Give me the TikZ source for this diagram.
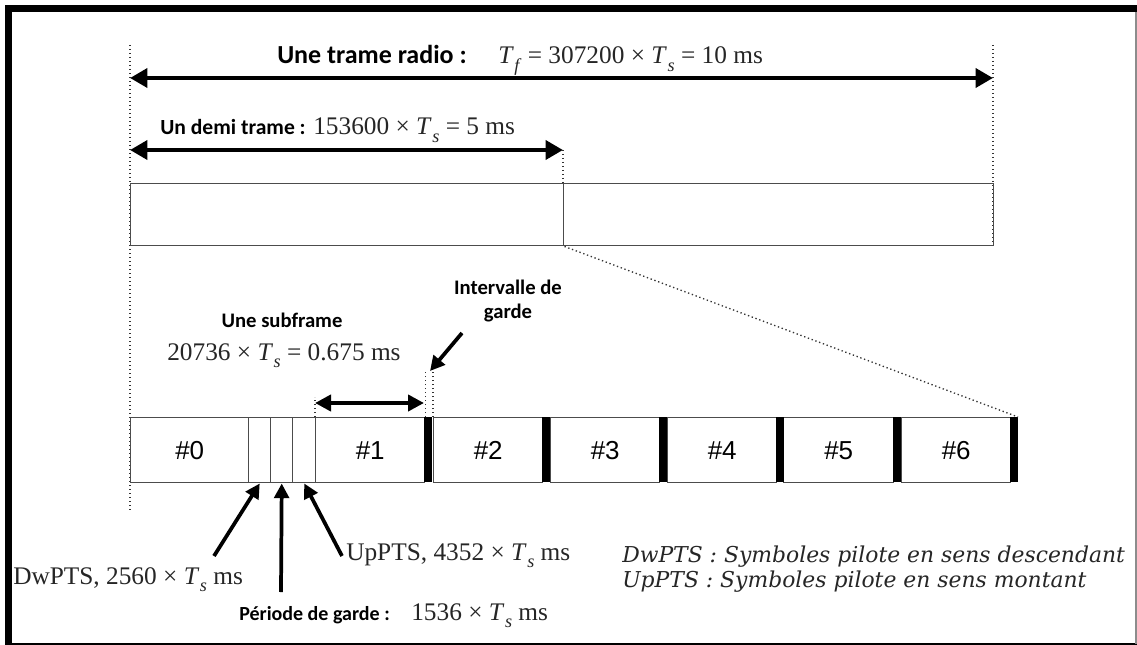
\documentclass[tikz,border=0pt]{standalone}
\usepackage{fontspec}
\setmainfont{Liberation Serif}
\newfontfamily\calibri{Carlito}
\newfontfamily\arialfont{Liberation Sans}
\newfontfamily\legendfont{DejaVu Serif}
\usetikzlibrary{arrows.meta}
\newcommand{\Tsub}[1]{\textit{T}\kern0.4pt\raisebox{-0.3em}{\scalebox{0.72}{\textit{#1}}}}
\tikzset{
  guide/.style={black!80, line width=1pt, dotted},
  longarrow/.style={line width=3.4pt, {Triangle[length=13pt,width=14pt]}-{Triangle[length=13pt,width=14pt]}},
  pointer/.style={line width=2.8pt, -{Triangle[length=11pt,width=11pt]}},
  box/.style={draw=black!70, line width=1.1pt, anchor=north west, inner sep=0pt},
  cell/.style={box, minimum height=48.75pt, font=\arialfont\fontsize{19.5pt}{19.5pt}\selectfont},
  boldtext/.style={font=\calibri\bfseries\fontsize{#1}{#1}\selectfont, inner sep=0pt, anchor=base west},
  boldtext/.default=15.5pt,
  serif/.style={font=\fontsize{19pt}{22pt}\selectfont, text=black!85, inner sep=0pt, anchor=base west},
  legend/.style={font=\legendfont\itshape\fontsize{16.4pt}{18pt}\selectfont, text=black!85, inner sep=0pt, anchor=base west},
}
\begin{document}
\begin{tikzpicture}[x=0.75pt, y=-0.75pt]
\useasboundingbox (0,0) rectangle (1137,645);
\fill (5,5) rectangle (1137,12);
\fill (5,5) rectangle (12,645);
\draw[line width=1.5pt] (5,644) -- (1137,644);
\draw[black!45, line width=0.8pt] (1136,12) -- (1136,644);

\path (130,78) coordinate (fl) (993,78) coordinate (fr)
      (130,150) coordinate (hl) (563,150) coordinate (hr);
\draw[guide] (130,45) -- (130,510);
\draw[guide] (993,45) -- (993,245);
\draw[guide] (hr) -- (563,183);
\draw[longarrow] (fl) -- (fr);
\draw[longarrow] (hl) -- (hr);

\node[boldtext=19.5pt] (tramelbl) at (277,64) {Une trame radio :};
\node[serif] (trameval) at (498,64) {\Tsub{f} = 307200 × \Tsub{s} = 10 ms};
\node[boldtext=16.2pt] (demilbl) at (160,135) {Un demi trame :};
\node[serif] (demival) at (313,135) {153600 × \Tsub{s} = 5 ms};

\node[box, minimum width=324.75pt, minimum height=46.5pt] (half1) at (130,183) {};
\node[box, minimum width=322.5pt, minimum height=46.5pt] (half2) at (563,183) {};

\foreach \l/\r/\txt/\nm in {130/248/\#0/c0, 248/270//dw, 270/292//gp, 292/315//up,
    315/424/\#1/c1, 433/542/\#2/c2, 550/659/\#3/c3, 667/776/\#4/c4,
    783/893/\#5/c5, 901/1010/\#6/c6}
  \node[cell, minimum width={(\r-\l)*0.75pt}] (\nm) at (\l,417) {\txt};
\foreach \l in {424,542,659,776,893,1010}
  \fill (\l,417) rectangle ++(8,65);
\path (1018,417) coordinate (barend);
\draw[guide] (half1.south east) -- (barend);

\node[boldtext, anchor=base] (sublbl) at (282,327) {Une subframe};
\node[serif] (subval) at (167,360) {20736 × \Tsub{s} = 0.675 ms};
\draw[guide] (c1.north west) -- ++(0,-20);
\draw[guide] (c1.north east) -- ++(0,-45);
\draw[guide] (c2.north west) -- ++(0,-45);
\path (315,403) coordinate (sfl) (424,403) coordinate (sfr);
\draw[line width=3pt, {Triangle[length=12pt,width=12pt]}-{Triangle[length=12pt,width=12pt]}] (sfl) -- (sfr);

\node[boldtext, anchor=base] (gilbl) at (508,294) {Intervalle de};
\node[boldtext, anchor=base] (gilbl2) at (508,318) {garde};
\path (462,333) coordinate (gitail) (430,371) coordinate (gitip);
\draw[pointer] (gitail) -- (gitip);

\node[serif] (dwlbl) at (13,584) {DwPTS, 2560 × \Tsub{s} ms};
\node[serif] (uplbl) at (346,560) {UpPTS, 4352 × \Tsub{s} ms};
\node[boldtext=15pt] (gplbl) at (239,620) {Période de garde :};
\node[serif] (gpval) at (411,620) {1536 × \Tsub{s} ms};
\path (214,556) coordinate (dwtail) (281,592) coordinate (gptail) (342,556) coordinate (uptail);
\draw[pointer] (dwtail) -- (dw.south);
\draw[pointer] (gptail) -- (gp.south);
\draw[pointer] (uptail) -- (up.south);

\node[legend] (legdw) at (622,562) {DwPTS : Symboles pilote en sens descendant};
\node[legend] (legup) at (622,587) {UpPTS : Symboles pilote en sens montant};
\end{tikzpicture}
\end{document}
